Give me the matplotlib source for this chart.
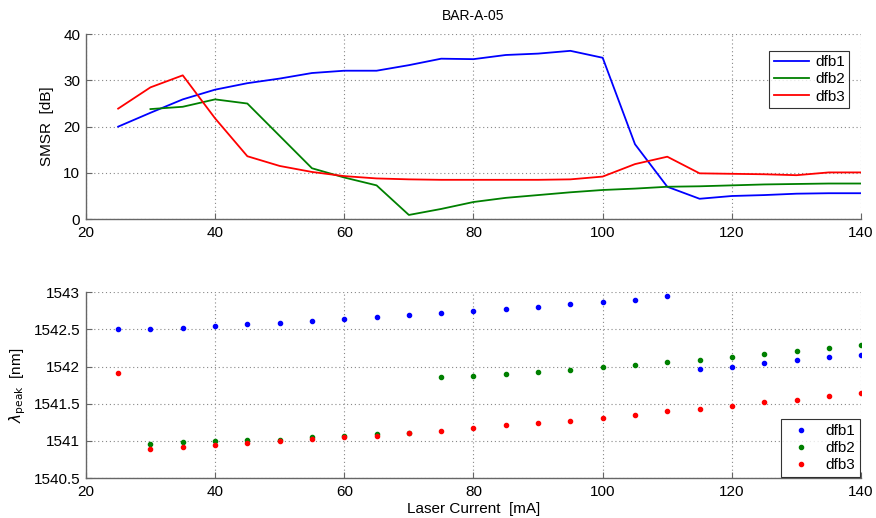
import matplotlib
matplotlib.use("Agg")
import matplotlib.pyplot as plt
import numpy as np

plt.rcParams['font.family'] = ['Liberation Sans', 'DejaVu Sans']

current = [25, 30, 35, 40, 45, 50, 55, 60, 65, 70, 75, 80, 85, 90, 95, 100,
           105, 110, 115, 120, 125, 130, 135, 140]

smsr_dfb1 = [20.0, 23.0, 25.9, 28.0, 29.4, 30.4, 31.6, 32.1, 32.1, 33.3, 34.7, 34.6,
             35.5, 35.8, 36.4, 34.9, 16.2, 7.0, 4.4, 5.0, 5.2, 5.5, 5.6, 5.6]
smsr_dfb2 = [np.nan, 23.8, 24.3, 25.9, 25.0, 18.0, 11.0, 9.0, 7.3, 0.9, 2.2, 3.7,
             4.6, 5.2, 5.8, 6.3, 6.6, 7.0, 7.1, 7.3, 7.5, 7.6, 7.7, 7.7]
smsr_dfb3 = [23.9, 28.5, 31.1, 21.8, 13.6, 11.5, 10.2, 9.3, 8.8, 8.6, 8.5, 8.5,
             8.5, 8.5, 8.6, 9.2, 11.9, 13.5, 9.9, 9.8, 9.7, 9.5, 10.1, 10.1]

peak_dfb1 = [1542.50, 1542.51, 1542.52, 1542.55, 1542.57, 1542.58, 1542.61, 1542.64,
             1542.66, 1542.69, 1542.72, 1542.75, 1542.78, 1542.80, 1542.84, 1542.87,
             1542.90, 1542.95, 1541.97, 1542.00, 1542.05, 1542.09, 1542.13, 1542.16]
peak_dfb2 = [np.nan, 1540.96, 1540.98, 1541.00, 1541.01, 1541.01, 1541.05, 1541.06,
             1541.09, 1541.11, 1541.86, 1541.875, 1541.90, 1541.93, 1541.96, 1541.99,
             1542.02, 1542.06, 1542.09, 1542.13, 1542.17, 1542.21, 1542.25, 1542.29]
peak_dfb3 = [1541.91, 1540.89, 1540.92, 1540.95, 1540.97, 1541.00, 1541.03, 1541.05,
             1541.07, 1541.10, 1541.14, 1541.17, 1541.21, 1541.24, 1541.27, 1541.31,
             1541.35, 1541.40, 1541.43, 1541.47, 1541.52, 1541.55, 1541.60, 1541.65]

labels = ['dfb1', 'dfb2', 'dfb3']
colors = ['#0000ff', '#008000', '#ff0000']

fig = plt.figure(figsize=(8.76, 5.18), dpi=100)
ax1 = fig.add_axes([0.098, 0.577, 0.885, 0.357])
ax2 = fig.add_axes([0.098, 0.077, 0.885, 0.359])

def style(ax):
    for s in ['top', 'right']:
        ax.spines[s].set_visible(False)
    for s in ['left', 'bottom']:
        ax.spines[s].set_color('#666666')
        ax.spines[s].set_linewidth(1.0)
    ax.tick_params(direction='in', length=4, colors='#666666', labelcolor='black',
                   labelsize=11, top=False, right=False)
    ax.tick_params(axis='x', pad=5)
    ax.tick_params(axis='y', pad=4)
    ax.grid(True, linestyle=(0, (1, 2.5)), color='#888888', linewidth=0.8)
    ax.set_xlim(20, 140)
    ax.set_xticks([20, 40, 60, 80, 100, 120, 140])

for y, lab, c in zip([smsr_dfb1, smsr_dfb2, smsr_dfb3], labels, colors):
    ax1.plot(current, y, color=c, linewidth=1.3, label=lab)
style(ax1)
ax1.set_ylim(0, 40)
ax1.set_yticks([0, 10, 20, 30, 40])
ax1.set_ylabel('SMSR  [dB]', fontsize=11, labelpad=7)
ax1.set_title('BAR-A-05', fontsize=10, pad=10)
leg1 = ax1.legend(loc='upper right', bbox_to_anchor=(0.985, 0.91), fontsize=11,
                  frameon=True, fancybox=False, edgecolor='black', handlelength=2.3,
                  handletextpad=0.4, borderpad=0.3, labelspacing=0.2, borderaxespad=0)
leg1.get_frame().set_linewidth(0.8)

for y, lab, c in zip([peak_dfb1, peak_dfb2, peak_dfb3], labels, colors):
    ax2.plot(current, y, linestyle='none', marker='o', markersize=3.0, color=c, label=lab)
style(ax2)
ax2.set_ylim(1540.5, 1543)
ax2.set_yticks([1540.5, 1541, 1541.5, 1542, 1542.5, 1543])
ax2.set_yticklabels(['1540.5', '1541', '1541.5', '1542', '1542.5', '1543'])
ax2.set_ylabel(r'$\lambda_{\mathrm{peak}}$  [nm]', fontsize=11, labelpad=4)
ax2.set_xlabel('Laser Current  [mA]', fontsize=11, labelpad=2)
leg2 = ax2.legend(loc='lower right', fontsize=11, frameon=True, fancybox=False,
                  edgecolor='black', handlelength=2.0, handletextpad=0.6,
                  borderpad=0.3, labelspacing=0.2, borderaxespad=0.1)
leg2.get_frame().set_linewidth(0.8)

fig.savefig('out.png', dpi=100)
